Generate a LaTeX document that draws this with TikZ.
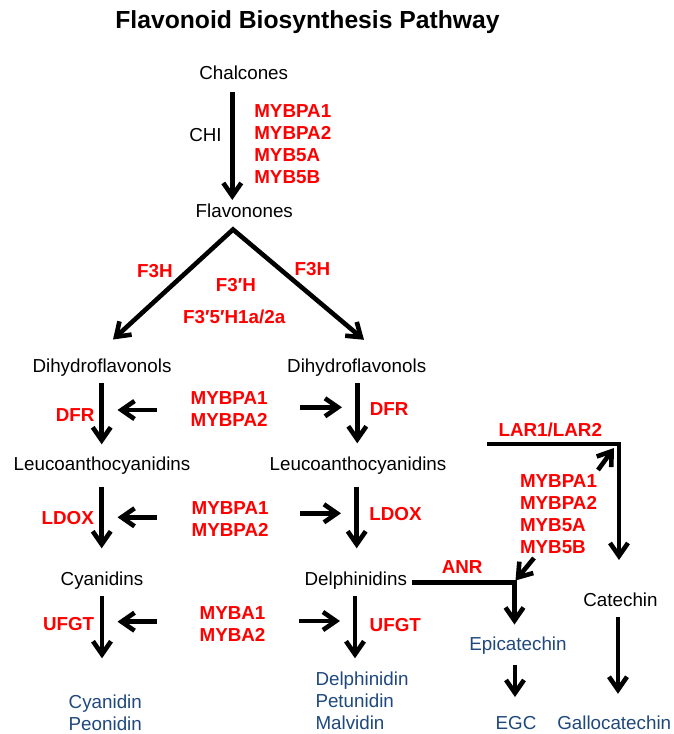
\documentclass[tikz,border=0pt]{standalone}
\usepackage{fontspec}
\setmainfont{Liberation Sans}
\usetikzlibrary{arrows.meta}
\definecolor{genered}{RGB}{255,0,0}
\definecolor{prodblue}{RGB}{31,73,125}
\begin{document}
\begin{tikzpicture}[x=1pt,y=-1pt,
  every node/.style={inner sep=0pt, outer sep=0pt},
  lbl/.style={font=\fontsize{18.8}{22}\selectfont, align=center},
  gene/.style={font=\fontsize{18.8}{22}\selectfont\bfseries, text=genered, align=left},
  prod/.style={font=\fontsize{18.8}{22}\selectfont, text=prodblue, align=left},
  ttl/.style={font=\fontsize{24.7}{28}\selectfont\bfseries},
  arr/.style={line width=4.6pt, line join=miter, -{Straight Barb[length=13pt,width=18pt,line width=4.6pt]}},
  dblarr/.style={line width=4.6pt, line join=miter, {Straight Barb[length=13pt,width=18pt,line width=4.6pt]}-{Straight Barb[length=13pt,width=18pt,line width=4.6pt]}}]
\fill[white] (0,0) rectangle (673,734);
\useasboundingbox (0,0) rectangle (673,734);

% ---------- texts ----------
\node[ttl, anchor=base] (title) at (307.5,28) {Flavonoid Biosynthesis Pathway};
\node[lbl, anchor=base] (chal) at (243.7,79) {Chalcones};
\node[lbl, anchor=base] (chi) at (205.5,141.5) {CHI};
\node[gene, anchor=north west] (mybT) at (254.3,104.8) {MYBPA1\\MYBPA2\\MYB5A\\MYB5B};
\node[lbl, anchor=base] (flav) at (244.3,217.7) {Flavonones};
\node[gene, anchor=base] (f3hL) at (155,277) {F3H};
\node[gene, anchor=base] (f3hR) at (312.5,275.5) {F3H};
\node[gene, anchor=base] (f3p) at (236,291.7) {F3′H};
\node[gene, anchor=base] (f35) at (234.2,323.3) {F3′5′H1a/2a};

\node[lbl, anchor=base] (dihL) at (102,372.5) {Dihydroflavonols};
\node[lbl, anchor=base] (dihR) at (356.7,372.5) {Dihydroflavonols};
\node[gene, anchor=base] (dfrL) at (75.2,421.7) {DFR};
\node[gene, anchor=base] (dfrR) at (389.2,415) {DFR};
\node[gene, anchor=north] (myb1) at (229.2,391.5) {MYBPA1\\MYBPA2};

\node[lbl, anchor=base] (leuL) at (102,470.5) {Leucoanthocyanidins};
\node[lbl, anchor=base] (leuR) at (358,470.5) {Leucoanthocyanidins};
\node[gene, anchor=base] (ldoxL) at (67.8,524.3) {LDOX};
\node[gene, anchor=base] (ldoxR) at (395.5,520) {LDOX};
\node[gene, anchor=north] (myb2) at (230.2,501.5) {MYBPA1\\MYBPA2};

\node[lbl, anchor=base] (cyas) at (102,585) {Cyanidins};
\node[lbl, anchor=base] (dels) at (355.8,585) {Delphinidins};
\node[gene, anchor=base] (ufgtL) at (68.6,630) {UFGT};
\node[gene, anchor=base] (ufgtR) at (395.3,631.7) {UFGT};
\node[gene, anchor=north] (myb3) at (232.5,606.5) {MYBA1\\MYBA2};

\node[prod, anchor=north west] (cyanP) at (68.7,695.3) {Cyanidin\\Peonidin};
\node[prod, anchor=north west] (delP) at (315.5,671.8) {Delphinidin\\Petunidin\\Malvidin};

\node[gene, anchor=base] (lar) at (550.3,436.7) {LAR1/LAR2};
\node[gene, anchor=north west] (mybR) at (520,474.8) {MYBPA1\\MYBPA2\\MYB5A\\MYB5B};
\node[gene, anchor=base] (anr) at (462.2,573.3) {ANR};
\node[lbl, anchor=base] (cat) at (620.5,606) {Catechin};
\node[prod, anchor=base] (epi) at (518,650) {Epicatechin};
\node[prod, anchor=base] (egc) at (516,729.5) {EGC};
\node[prod, anchor=base] (gal) at (614.2,729.5) {Gallocatechin};

% ---------- connector end points ----------
\coordinate (chalA) at (232.3,92);
\coordinate (chalB) at (232.3,200);
\coordinate (vL) at (113,339.5);
\coordinate (apex) at (233,229.5);
\coordinate (vR) at (364,339.8);

\coordinate (l1a) at (101.7,383.3);  \coordinate (l1b) at (101.7,444.3);
\coordinate (l2a) at (101.7,486.7);  \coordinate (l2b) at (101.7,548.3);
\coordinate (l3a) at (102,596);      \coordinate (l3b) at (102,658.3);
\coordinate (r1a) at (357.3,383.3);  \coordinate (r1b) at (357.3,443.3);
\coordinate (r2a) at (356.7,486.7);  \coordinate (r2b) at (356.7,548.3);
\coordinate (r3a) at (355,596);      \coordinate (r3b) at (355,658.3);

\coordinate (hl1a) at (156.7,410);   \coordinate (hl1b) at (117.5,410);
\coordinate (hl2a) at (156.7,517.3); \coordinate (hl2b) at (117.5,517.3);
\coordinate (hl3a) at (156.7,621.7); \coordinate (hl3b) at (117.5,621.7);
\coordinate (hr1a) at (300,407.3);   \coordinate (hr1b) at (342,407.3);
\coordinate (hr2a) at (300,513.3);   \coordinate (hr2b) at (341,513.3);
\coordinate (hr3a) at (299,621);     \coordinate (hr3b) at (340,621);

\coordinate (larA) at (487,444);
\coordinate (larC) at (619,444);
\coordinate (larB) at (619,560);
\coordinate (ldA) at (598,470);
\coordinate (ldB) at (614,448);

\coordinate (anrA) at (411.7,582.3);
\coordinate (anrC) at (514.5,582.3);
\coordinate (anrB) at (514.5,624.5);
\coordinate (adA) at (534,558);
\coordinate (adB) at (515.5,580.5);

\coordinate (egA) at (515,665);  \coordinate (egB) at (515,697);
\coordinate (gaA) at (618,617.3); \coordinate (gaB) at (618,693.8);

% ---------- connectors ----------
\draw[arr] (chalA) -- (chalB);
\draw[dblarr] (vL) -- (apex) -- (vR);

\draw[arr] (l1a) -- (l1b);
\draw[arr] (l2a) -- (l2b);
\draw[arr] (l3a) -- (l3b);
\draw[arr] (r1a) -- (r1b);
\draw[arr] (r2a) -- (r2b);
\draw[arr] (r3a) -- (r3b);

\draw[arr] (hl1a) -- (hl1b);
\draw[arr] (hl2a) -- (hl2b);
\draw[arr] (hl3a) -- (hl3b);
\draw[arr] (hr1a) -- (hr1b);
\draw[arr] (hr2a) -- (hr2b);
\draw[arr] (hr3a) -- (hr3b);

\draw[arr] (larA) -- (larC) -- (larB);
\draw[arr] (ldA) -- (ldB);
\draw[arr] (anrA) -- (anrC) -- (anrB);
\draw[arr] (adA) -- (adB);
\draw[arr] (egA) -- (egB);
\draw[arr] (gaA) -- (gaB);
\end{tikzpicture}
\end{document}
